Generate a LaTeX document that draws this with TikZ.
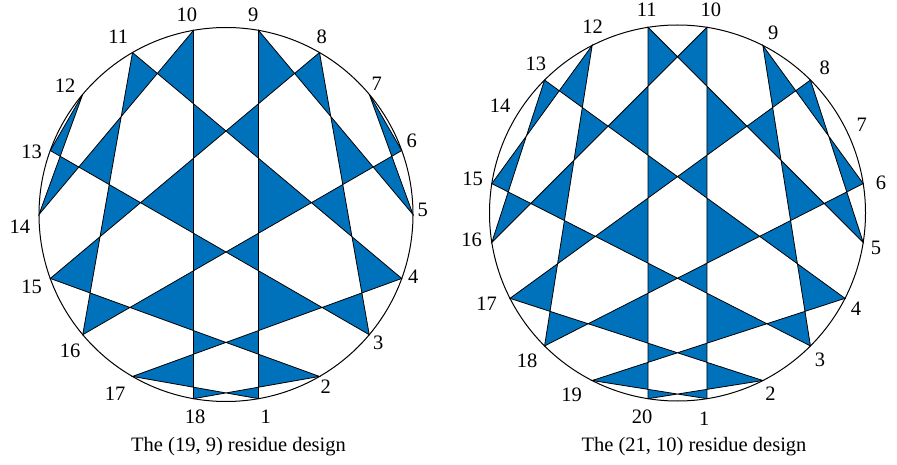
\documentclass[tikz,border=0pt]{standalone}
\usepackage{fontspec}
\setmainfont{Liberation Serif}
\usetikzlibrary{calc}
\definecolor{resblue}{RGB}{0,114,188}
\tikzset{
  rim/.style={draw=black, line width=1pt},
  design/.style={fill=resblue, draw=black, line width=0.8pt, even odd rule},
  ptlabel/.style={inner sep=0pt, font=\fontsize{20.5}{24}\selectfont},
  caption/.style={inner sep=0pt, font=\fontsize{20.5}{24}\selectfont},
}

\begin{document}
\begin{tikzpicture}[x=1pt,y=1pt]
  \useasboundingbox (0,0) rectangle (897,464);
  % (19,9) design: k joined to 9k mod 19
  \begin{scope}[shift={(226,249.5)}]
    \draw[rim] (0,0) circle (187);
    \foreach \k in {1,...,18}
      \coordinate (p\k) at (-100+20*\k:187);
    \filldraw[design] (p1) -- (p9) -- (p5) -- (p7) -- (p6) -- (p16) -- (p11) -- (p4) -- (p17) -- cycle
      (p2) -- (p18) -- (p10) -- (p14) -- (p12) -- (p13) -- (p3) -- (p8) -- (p15) -- cycle;
    \foreach \k/\a/\r in {1/-78.9/206, 2/-59.9/199, 3/-40.2/199.5, 4/-18.4/197.4, 5/1.3/196.8,
        6/21.7/199.8, 7/41/199.8, 8/61.7/202, 9/82.2/201.4, 10/101.1/203.3, 11/121.2/207.9,
        12/141.4/206, 13/162.1/204.2, 14/183.4/206.4, 15/200.4/207.3, 16/221.1/207,
        17/238.2/210.5, 18/261.3/204.6}
      \node[ptlabel] (lp\k) at (\a:\r) {\k};
    \node[caption] (capl) at (12.5,-232) {The (19, 9) residue design};
  \end{scope}
  % (21,10) design: k joined to 10k mod 21
  \begin{scope}[shift={(677.5,251)}]
    \draw[rim] (0,0) circle (188);
    \foreach \k in {1,...,20}
      \coordinate (q\k) at (-99+18*\k:188);
    \filldraw[design] (q1) -- (q10) -- (q16) -- (q13) -- (q4) -- (q19) -- cycle
      (q2) -- (q20) -- (q11) -- (q5) -- (q8) -- (q17) -- cycle
      (q3) -- (q9) -- (q6) -- (q18) -- (q12) -- (q15) -- cycle;
    \foreach \k/\a/\r in {1/-82.6/207, 2/-62.7/203, 3/-45.9/204.7, 4/-28.3/202.8, 5/-10.1/201.6,
        6/8.5/205.7, 7/25.7/204.4, 8/44.5/206.6, 9/62/204.2, 10/80.7/206.4, 11/98.6/206,
        12/114.5/204.7, 13/133.4/206, 14/148.9/207.3, 15/170.6/207.6, 16/187.3/207.5,
        17/205.5/211.4, 18/224.5/210.7, 19/239.8/210.5, 20/260.2/207.3}
      \node[ptlabel] (lq\k) at (\a:\r) {\k};
    \node[caption] (capr) at (16.5,-234) {The (21, 10) residue design};
  \end{scope}
\end{tikzpicture}
\end{document}
